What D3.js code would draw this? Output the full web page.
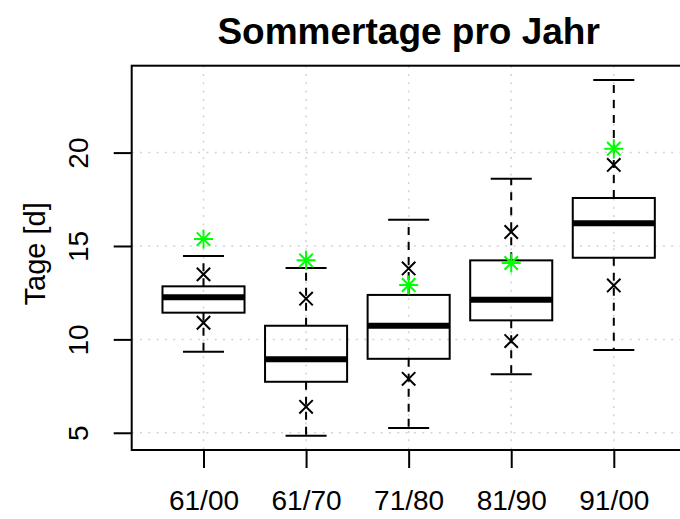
<!DOCTYPE html>
<html>
<head>
<meta charset="utf-8">
<script src="https://cdn.jsdelivr.net/npm/d3@7"></script>
<style>
  html, body { margin: 0; padding: 0; background: #ffffff; }
  svg { display: block; font-family: "Liberation Sans", Arial, Helvetica, sans-serif; }
</style>
</head>
<body>
<div id="chart"></div>
<script>
// Periods on the x axis
const periods = ['61/00', '61/70', '71/80', '81/90', '91/00'];

// Box statistics (days per year)
const whiskerLow  = [9.34, 4.84, 5.25, 8.13, 9.43];
const quartileLow = [11.43, 7.73, 8.96, 11.02, 14.37];
const medians     = [12.25, 8.93, 10.73, 12.12, 16.22];
const quartileHigh = [12.84, 10.73, 12.38, 14.23, 17.57];
const whiskerHigh = [14.46, 13.82, 16.41, 18.60, 23.89];

// Black crosses (lower / upper marker per period)
const crossLow  = [10.89, 6.39, 7.89, 9.91, 12.89];
const crossHigh = [13.48, 12.18, 13.80, 15.75, 19.34];

// Green asterisks
const greenMarks = [15.37, 14.23, 12.91, 14.09, 20.21];

// y ticks
const yTicks = [5, 10, 15, 20];

const width = 680, height = 519;
const margin = { top: 65.7, right: -5.6, bottom: 69, left: 131.7 };

const svg = d3.select('#chart')
  .append('svg')
  .attr('width', width)
  .attr('height', height);

// R-like ranges: boxes at 1..n, 4% padding
const x = d3.scaleLinear()
  .domain([0.3, periods.length + 0.7])
  .range([margin.left, width - margin.right]);

const allVals = [].concat(whiskerLow, whiskerHigh);
const yMin = d3.min(allVals), yMax = d3.max(allVals);
const pad = (yMax - yMin) * 0.04;
const y = d3.scaleLinear()
  .domain([yMin - pad, yMax + pad])
  .range([height - margin.bottom, margin.top]);

const plotLeft = x.range()[0], plotRight = x.range()[1];
const plotTop = y.range()[1], plotBottom = y.range()[0];

// Grid (dotted light gray)
const grid = svg.append('g').attr('class', 'grid');
yTicks.forEach(t => {
  grid.append('line')
    .attr('x1', plotLeft).attr('x2', plotRight)
    .attr('y1', y(t)).attr('y2', y(t))
    .style('stroke', '#d3d3d3')
    .style('stroke-width', 1.5)
    .style('stroke-dasharray', '2,6.3');
});
periods.forEach((p, i) => {
  grid.append('line')
    .attr('x1', x(i + 1)).attr('x2', x(i + 1))
    .attr('y1', plotTop).attr('y2', plotBottom)
    .style('stroke', '#d3d3d3')
    .style('stroke-width', 1.5)
    .style('stroke-dasharray', '2,6.3');
});

// Boxes
const boxHalf = 0.4, capHalf = 0.2;
const boxes = svg.append('g').attr('class', 'boxes');
periods.forEach((p, i) => {
  const cx = x(i + 1);
  const g = boxes.append('g');

  // whiskers (dashed)
  g.append('line')
    .attr('x1', cx).attr('x2', cx)
    .attr('y1', y(quartileHigh[i])).attr('y2', y(whiskerHigh[i]))
    .style('stroke', '#000').style('stroke-width', 2)
    .style('stroke-dasharray', '8,7');
  g.append('line')
    .attr('x1', cx).attr('x2', cx)
    .attr('y1', y(quartileLow[i])).attr('y2', y(whiskerLow[i]))
    .style('stroke', '#000').style('stroke-width', 2)
    .style('stroke-dasharray', '8,7');

  // caps
  [whiskerHigh[i], whiskerLow[i]].forEach(v => {
    g.append('line')
      .attr('x1', x(i + 1 - capHalf)).attr('x2', x(i + 1 + capHalf))
      .attr('y1', y(v)).attr('y2', y(v))
      .style('stroke', '#000').style('stroke-width', 2);
  });

  // box
  g.append('rect')
    .attr('x', x(i + 1 - boxHalf))
    .attr('y', y(quartileHigh[i]))
    .attr('width', x(i + 1 + boxHalf) - x(i + 1 - boxHalf))
    .attr('height', y(quartileLow[i]) - y(quartileHigh[i]))
    .style('fill', 'none')
    .style('stroke', '#000')
    .style('stroke-width', 2);

  // median
  g.append('line')
    .attr('x1', x(i + 1 - boxHalf)).attr('x2', x(i + 1 + boxHalf))
    .attr('y1', y(medians[i])).attr('y2', y(medians[i]))
    .style('stroke', '#000').style('stroke-width', 6);
});

// Markers
const crossSize = 6.7, plusSize = 9.5;
function drawCross(sel, cx, cy, s, color) {
  sel.append('path')
    .attr('d', `M${cx - s},${cy - s}L${cx + s},${cy + s}M${cx - s},${cy + s}L${cx + s},${cy - s}`)
    .style('stroke', color).style('stroke-width', 2).style('fill', 'none');
}
function drawPlus(sel, cx, cy, s, color) {
  sel.append('path')
    .attr('d', `M${cx - s},${cy}L${cx + s},${cy}M${cx},${cy - s}L${cx},${cy + s}`)
    .style('stroke', color).style('stroke-width', 2).style('fill', 'none');
}
const marks = svg.append('g').attr('class', 'marks');
periods.forEach((p, i) => {
  const cx = x(i + 1);
  drawCross(marks, cx, y(crossLow[i]), crossSize, '#000');
  drawCross(marks, cx, y(crossHigh[i]), crossSize, '#000');
  // asterisk = plus + cross
  drawCross(marks, cx, y(greenMarks[i]), crossSize, '#00ff00');
  drawPlus(marks, cx, y(greenMarks[i]), plusSize, '#00ff00');
});

// Axes
const xAxis = d3.axisBottom(x)
  .tickValues(periods.map((p, i) => i + 1))
  .tickFormat((d, i) => periods[i])
  .tickSize(18);

const xg = svg.append('g')
  .attr('transform', `translate(0,${plotBottom})`)
  .call(xAxis);
xg.select('.domain').remove();
xg.selectAll('.tick line').style('stroke', '#000').style('stroke-width', 2);
xg.selectAll('.tick text')
  .attr('y', 60)
  .attr('dy', 0)
  .style('font-size', '28px')
  .style('font-family', '"Liberation Sans", Arial, sans-serif')
  .style('fill', '#000');

const yAxis = d3.axisLeft(y)
  .tickValues(yTicks)
  .tickSize(18);

const yg = svg.append('g')
  .attr('transform', `translate(${plotLeft},0)`)
  .call(yAxis);
yg.select('.domain').remove();
yg.selectAll('.tick line').style('stroke', '#000').style('stroke-width', 2);
yg.selectAll('.tick text')
  .attr('transform', 'rotate(-90)')
  .attr('x', 0)
  .attr('y', -43.7)
  .attr('dy', 0)
  .attr('text-anchor', 'middle')
  .style('font-size', '28px')
  .style('font-family', '"Liberation Sans", Arial, sans-serif')
  .style('fill', '#000');

// Plot border
svg.append('rect')
  .attr('x', plotLeft)
  .attr('y', plotTop)
  .attr('width', plotRight - plotLeft)
  .attr('height', plotBottom - plotTop)
  .style('fill', 'none')
  .style('stroke', '#000')
  .style('stroke-width', 2);

// Y label
svg.append('text')
  .attr('transform', `translate(45,${(plotTop + plotBottom) / 2 - 4}) rotate(-90)`)
  .attr('text-anchor', 'middle')
  .style('font-size', '29px')
  .style('fill', '#000')
  .text('Tage [d]');

// Title
svg.append('text')
  .attr('x', (plotLeft + plotRight) / 2)
  .attr('y', 44)
  .attr('text-anchor', 'middle')
  .style('font-size', '37px')
  .style('font-weight', 'bold')
  .style('fill', '#000')
  .text('Sommertage pro Jahr');
</script>
</body>
</html>
